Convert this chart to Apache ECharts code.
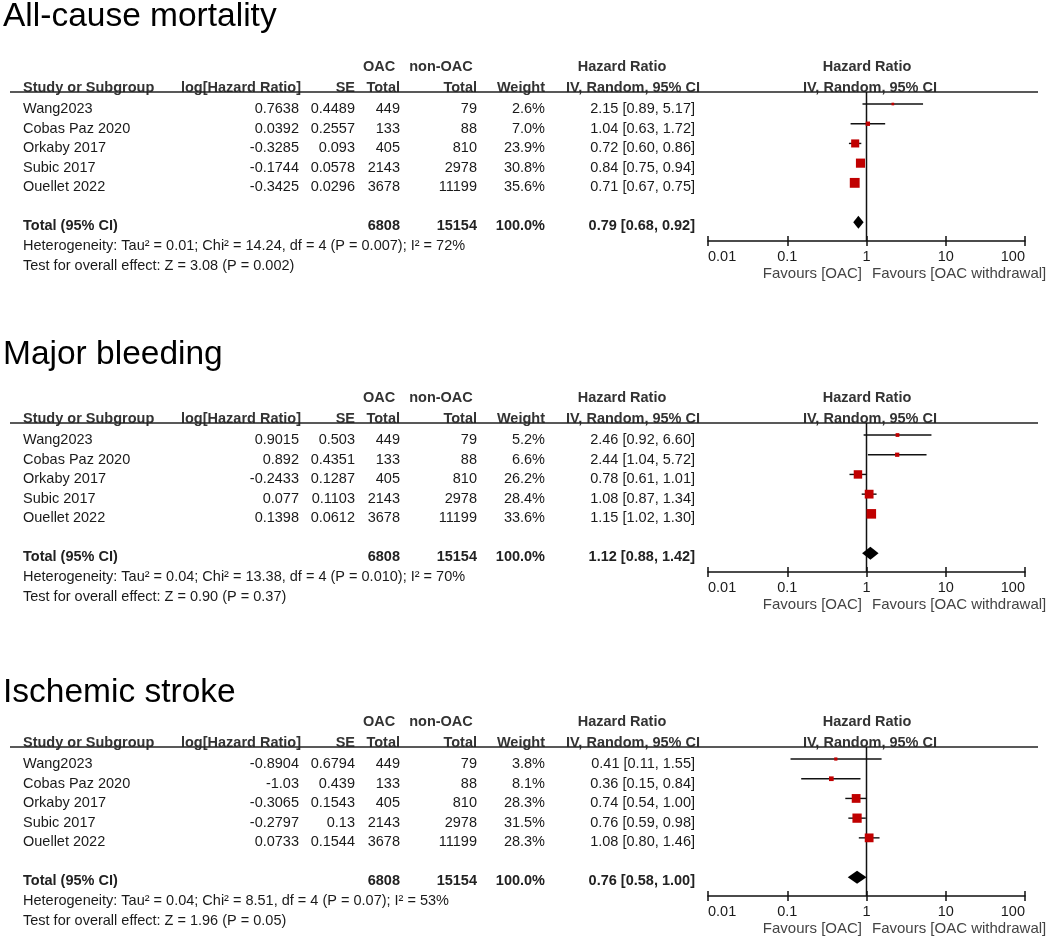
<!DOCTYPE html>
<html><head><meta charset="utf-8">
<script src="https://cdn.jsdelivr.net/npm/echarts@6/dist/echarts.min.js"></script>
<style>html,body{margin:0;padding:0;background:#fff}#c{width:1053px;height:943px}</style>
</head><body><div id="c"></div>
<script>
// ---------- data ----------
const panelTitles = ['All-cause mortality', 'Major bleeding', 'Ischemic stroke'];
const studies = ['Wang2023', 'Cobas Paz 2020', 'Orkaby 2017', 'Subic 2017', 'Ouellet 2022'];
const oacTotal = [449, 133, 405, 2143, 3678];
const nonOacTotal = [79, 88, 810, 2978, 11199];
const oacSum = 6808;
const nonOacSum = 15154;
const tickLabels = ['0.01', '0.1', '1', '10', '100'];

// All-cause mortality
const mortLogHR = ['0.7638', '0.0392', '-0.3285', '-0.1744', '-0.3425'];
const mortSE = ['0.4489', '0.2557', '0.093', '0.0578', '0.0296'];
const mortWeight = [2.6, 7.0, 23.9, 30.8, 35.6];
const mortHR = [2.15, 1.04, 0.72, 0.84, 0.71];
const mortLo = [0.89, 0.63, 0.60, 0.75, 0.67];
const mortHi = [5.17, 1.72, 0.86, 0.94, 0.75];
const mortTotal = [0.79, 0.68, 0.92];
const mortHet = 'Heterogeneity: Tau\u00b2 = 0.01; Chi\u00b2 = 14.24, df = 4 (P = 0.007); I\u00b2 = 72%';
const mortTest = 'Test for overall effect: Z = 3.08 (P = 0.002)';

// Major bleeding
const bleedLogHR = ['0.9015', '0.892', '-0.2433', '0.077', '0.1398'];
const bleedSE = ['0.503', '0.4351', '0.1287', '0.1103', '0.0612'];
const bleedWeight = [5.2, 6.6, 26.2, 28.4, 33.6];
const bleedHR = [2.46, 2.44, 0.78, 1.08, 1.15];
const bleedLo = [0.92, 1.04, 0.61, 0.87, 1.02];
const bleedHi = [6.60, 5.72, 1.01, 1.34, 1.30];
const bleedTotal = [1.12, 0.88, 1.42];
const bleedHet = 'Heterogeneity: Tau\u00b2 = 0.04; Chi\u00b2 = 13.38, df = 4 (P = 0.010); I\u00b2 = 70%';
const bleedTest = 'Test for overall effect: Z = 0.90 (P = 0.37)';

// Ischemic stroke
const strokeLogHR = ['-0.8904', '-1.03', '-0.3065', '-0.2797', '0.0733'];
const strokeSE = ['0.6794', '0.439', '0.1543', '0.13', '0.1544'];
const strokeWeight = [3.8, 8.1, 28.3, 31.5, 28.3];
const strokeHR = [0.41, 0.36, 0.74, 0.76, 1.08];
const strokeLo = [0.11, 0.15, 0.54, 0.59, 0.80];
const strokeHi = [1.55, 0.84, 1.00, 0.98, 1.46];
const strokeTotal = [0.76, 0.58, 1.00];
const strokeHet = 'Heterogeneity: Tau\u00b2 = 0.04; Chi\u00b2 = 8.51, df = 4 (P = 0.07); I\u00b2 = 53%';
const strokeTest = 'Test for overall effect: Z = 1.96 (P = 0.05)';

const panels = [
  {logHR: mortLogHR, se: mortSE, w: mortWeight, hr: mortHR, lo: mortLo, hi: mortHi, tot: mortTotal, het: mortHet, test: mortTest},
  {logHR: bleedLogHR, se: bleedSE, w: bleedWeight, hr: bleedHR, lo: bleedLo, hi: bleedHi, tot: bleedTotal, het: bleedHet, test: bleedTest},
  {logHR: strokeLogHR, se: strokeSE, w: strokeWeight, hr: strokeHR, lo: strokeLo, hi: strokeHi, tot: strokeTotal, het: strokeHet, test: strokeTest}
];

// ---------- layout ----------
const FONT = '"Liberation Sans", Arial, Helvetica, sans-serif';
const offsets = [0, 331, 655];
const titleY = [17, 355, 693];
const totalRowIdx = 6;
const yMin = -0.61, yMax = 6.95;

function txt(x, y, s, align, opts) {
  opts = opts || {};
  const size = opts.size || 14.5;
  return {
    type: 'text', x: x, y: y, silent: true,
    style: {
      text: s, fill: opts.color || '#1a1a1a',
      font: (opts.bold ? 'bold ' : '') + size + 'px ' + FONT,
      align: align, textAlign: align,
      verticalAlign: 'middle', textVerticalAlign: 'middle'
    }
  };
}
const f2 = v => v.toFixed(2);
const ciStr = (e, l, h) => f2(e) + ' [' + f2(l) + ', ' + f2(h) + ']';

const graphics = [];
const grids = [], xAxes = [], yAxes = [], series = [];

panels.forEach((p, k) => {
  const o = offsets[k];
  graphics.push(txt(3, titleY[k], panelTitles[k], 'left', {size: 33.5, color: '#000'}));
  // header row 1
  const hb = {bold: true, color: '#333'};
  graphics.push(txt(379, 67 + o, 'OAC', 'center', hb));
  graphics.push(txt(441, 67 + o, 'non-OAC', 'center', hb));
  graphics.push(txt(622, 67 + o, 'Hazard Ratio', 'center', hb));
  graphics.push(txt(867, 67 + o, 'Hazard Ratio', 'center', hb));
  // header row 2
  graphics.push(txt(23, 88 + o, 'Study or Subgroup', 'left', hb));
  graphics.push(txt(301, 88 + o, 'log[Hazard Ratio]', 'right', hb));
  graphics.push(txt(355, 88 + o, 'SE', 'right', hb));
  graphics.push(txt(400, 88 + o, 'Total', 'right', hb));
  graphics.push(txt(477, 88 + o, 'Total', 'right', hb));
  graphics.push(txt(545, 88 + o, 'Weight', 'right', hb));
  graphics.push(txt(633, 88 + o, 'IV, Random, 95% CI', 'center', hb));
  graphics.push(txt(870, 88 + o, 'IV, Random, 95% CI', 'center', hb));
  // header rule
  graphics.push({type: 'line', silent: true, shape: {x1: 10, y1: 92 + o, x2: 1038, y2: 92 + o}, style: {stroke: '#222', lineWidth: 1.5}});
  // study rows
  studies.forEach((s, i) => {
    const y = 109 + 19.6 * i + o;
    graphics.push(txt(23, y, s, 'left'));
    graphics.push(txt(299, y, p.logHR[i], 'right'));
    graphics.push(txt(355, y, p.se[i], 'right'));
    graphics.push(txt(400, y, String(oacTotal[i]), 'right'));
    graphics.push(txt(477, y, String(nonOacTotal[i]), 'right'));
    graphics.push(txt(545, y, p.w[i].toFixed(1) + '%', 'right'));
    graphics.push(txt(695, y, ciStr(p.hr[i], p.lo[i], p.hi[i]), 'right'));
  });
  // total row
  const tb = {bold: true, color: '#222'};
  const ty = 225.5 + o;
  graphics.push(txt(23, ty, 'Total (95% CI)', 'left', tb));
  graphics.push(txt(400, ty, String(oacSum), 'right', tb));
  graphics.push(txt(477, ty, String(nonOacSum), 'right', tb));
  graphics.push(txt(545, ty, '100.0%', 'right', tb));
  graphics.push(txt(695, ty, ciStr(p.tot[0], p.tot[1], p.tot[2]), 'right', tb));
  graphics.push(txt(23, 246 + o, p.het, 'left'));
  graphics.push(txt(23, 266 + o, p.test, 'left'));
  // favours labels
  graphics.push(txt(862, 274 + o, 'Favours [OAC]', 'right', {size: 15, color: '#444'}));
  graphics.push(txt(872, 274 + o, 'Favours [OAC withdrawal]', 'left', {size: 15, color: '#444'}));

  // forest plot grid
  grids.push({left: 708, width: 317, top: 92 + o, height: 149, containLabel: false});
  const xa = xAxes.length;
  xAxes.push({
    type: 'log', logBase: 10, min: 0.01, max: 100, gridIndex: k, position: 'bottom',
    axisLine: {show: true, onZero: false, lineStyle: {color: '#111', width: 1.5}},
    axisTick: {show: true, inside: false, length: 5, lineStyle: {color: '#111', width: 1.5}},
    minorTick: {show: false}, splitLine: {show: false},
    axisLabel: {
      show: true, margin: 8, color: '#1a1a1a', fontSize: 14.5, fontFamily: FONT,
      alignMinLabel: 'left', alignMaxLabel: 'right',
      formatter: v => tickLabels[Math.round(Math.log10(v)) + 2]
    }
  });
  xAxes.push({
    type: 'log', logBase: 10, min: 0.01, max: 100, gridIndex: k, position: 'bottom', offset: 0,
    axisLine: {show: false, onZero: false},
    axisTick: {show: true, inside: true, length: 5, lineStyle: {color: '#111', width: 1.5}},
    axisLabel: {show: false}, splitLine: {show: false}
  });
  yAxes.push({type: 'value', gridIndex: k, inverse: true, min: yMin, max: yMax, show: false});

  // null line at HR = 1
  series.push({
    type: 'line', xAxisIndex: xa, yAxisIndex: k, silent: true, symbol: 'none',
    data: [[1, yMin], [1, yMax]], lineStyle: {color: '#111', width: 1.5}, z: 2
  });
  // CI whiskers
  series.push({
    type: 'custom', xAxisIndex: xa, yAxisIndex: k, silent: true, z: 3,
    data: studies.map((s, i) => [p.lo[i], p.hi[i], i]),
    encode: {x: [0, 1], y: 2},
    renderItem: (params, api) => {
      const a = api.coord([api.value(0), api.value(2)]);
      const b = api.coord([api.value(1), api.value(2)]);
      return {type: 'line', shape: {x1: a[0], y1: a[1], x2: b[0], y2: b[1]}, style: {stroke: '#111', lineWidth: 1.4}};
    }
  });
  // weighted squares
  series.push({
    type: 'scatter', xAxisIndex: xa, yAxisIndex: k, silent: true, z: 4,
    symbol: 'rect',
    symbolSize: v => 1.65 * Math.sqrt(v[2]),
    data: studies.map((s, i) => [p.hr[i], i, p.w[i]]),
    itemStyle: {color: '#c00000', opacity: 1}
  });
  // pooled diamond
  series.push({
    type: 'custom', xAxisIndex: xa, yAxisIndex: k, silent: true, z: 5,
    data: [[p.tot[1], p.tot[0], p.tot[2], totalRowIdx]],
    encode: {x: [0, 1, 2], y: 3},
    renderItem: (params, api) => {
      const yv = api.value(3);
      const l = api.coord([api.value(0), yv]);
      const c = api.coord([api.value(1), yv]);
      const r = api.coord([api.value(2), yv]);
      const h = 6.5;
      return {type: 'polygon', shape: {points: [[l[0], l[1]], [c[0], c[1] - h], [r[0], r[1]], [c[0], c[1] + h]]}, style: {fill: '#000'}};
    }
  });
});

const chart = echarts.init(document.getElementById('c'), null, {renderer: 'canvas'});
chart.setOption({
  backgroundColor: '#fff',
  animation: false,
  grid: grids, xAxis: xAxes, yAxis: yAxes, series: series,
  graphic: {elements: graphics}
});
</script></body></html>
